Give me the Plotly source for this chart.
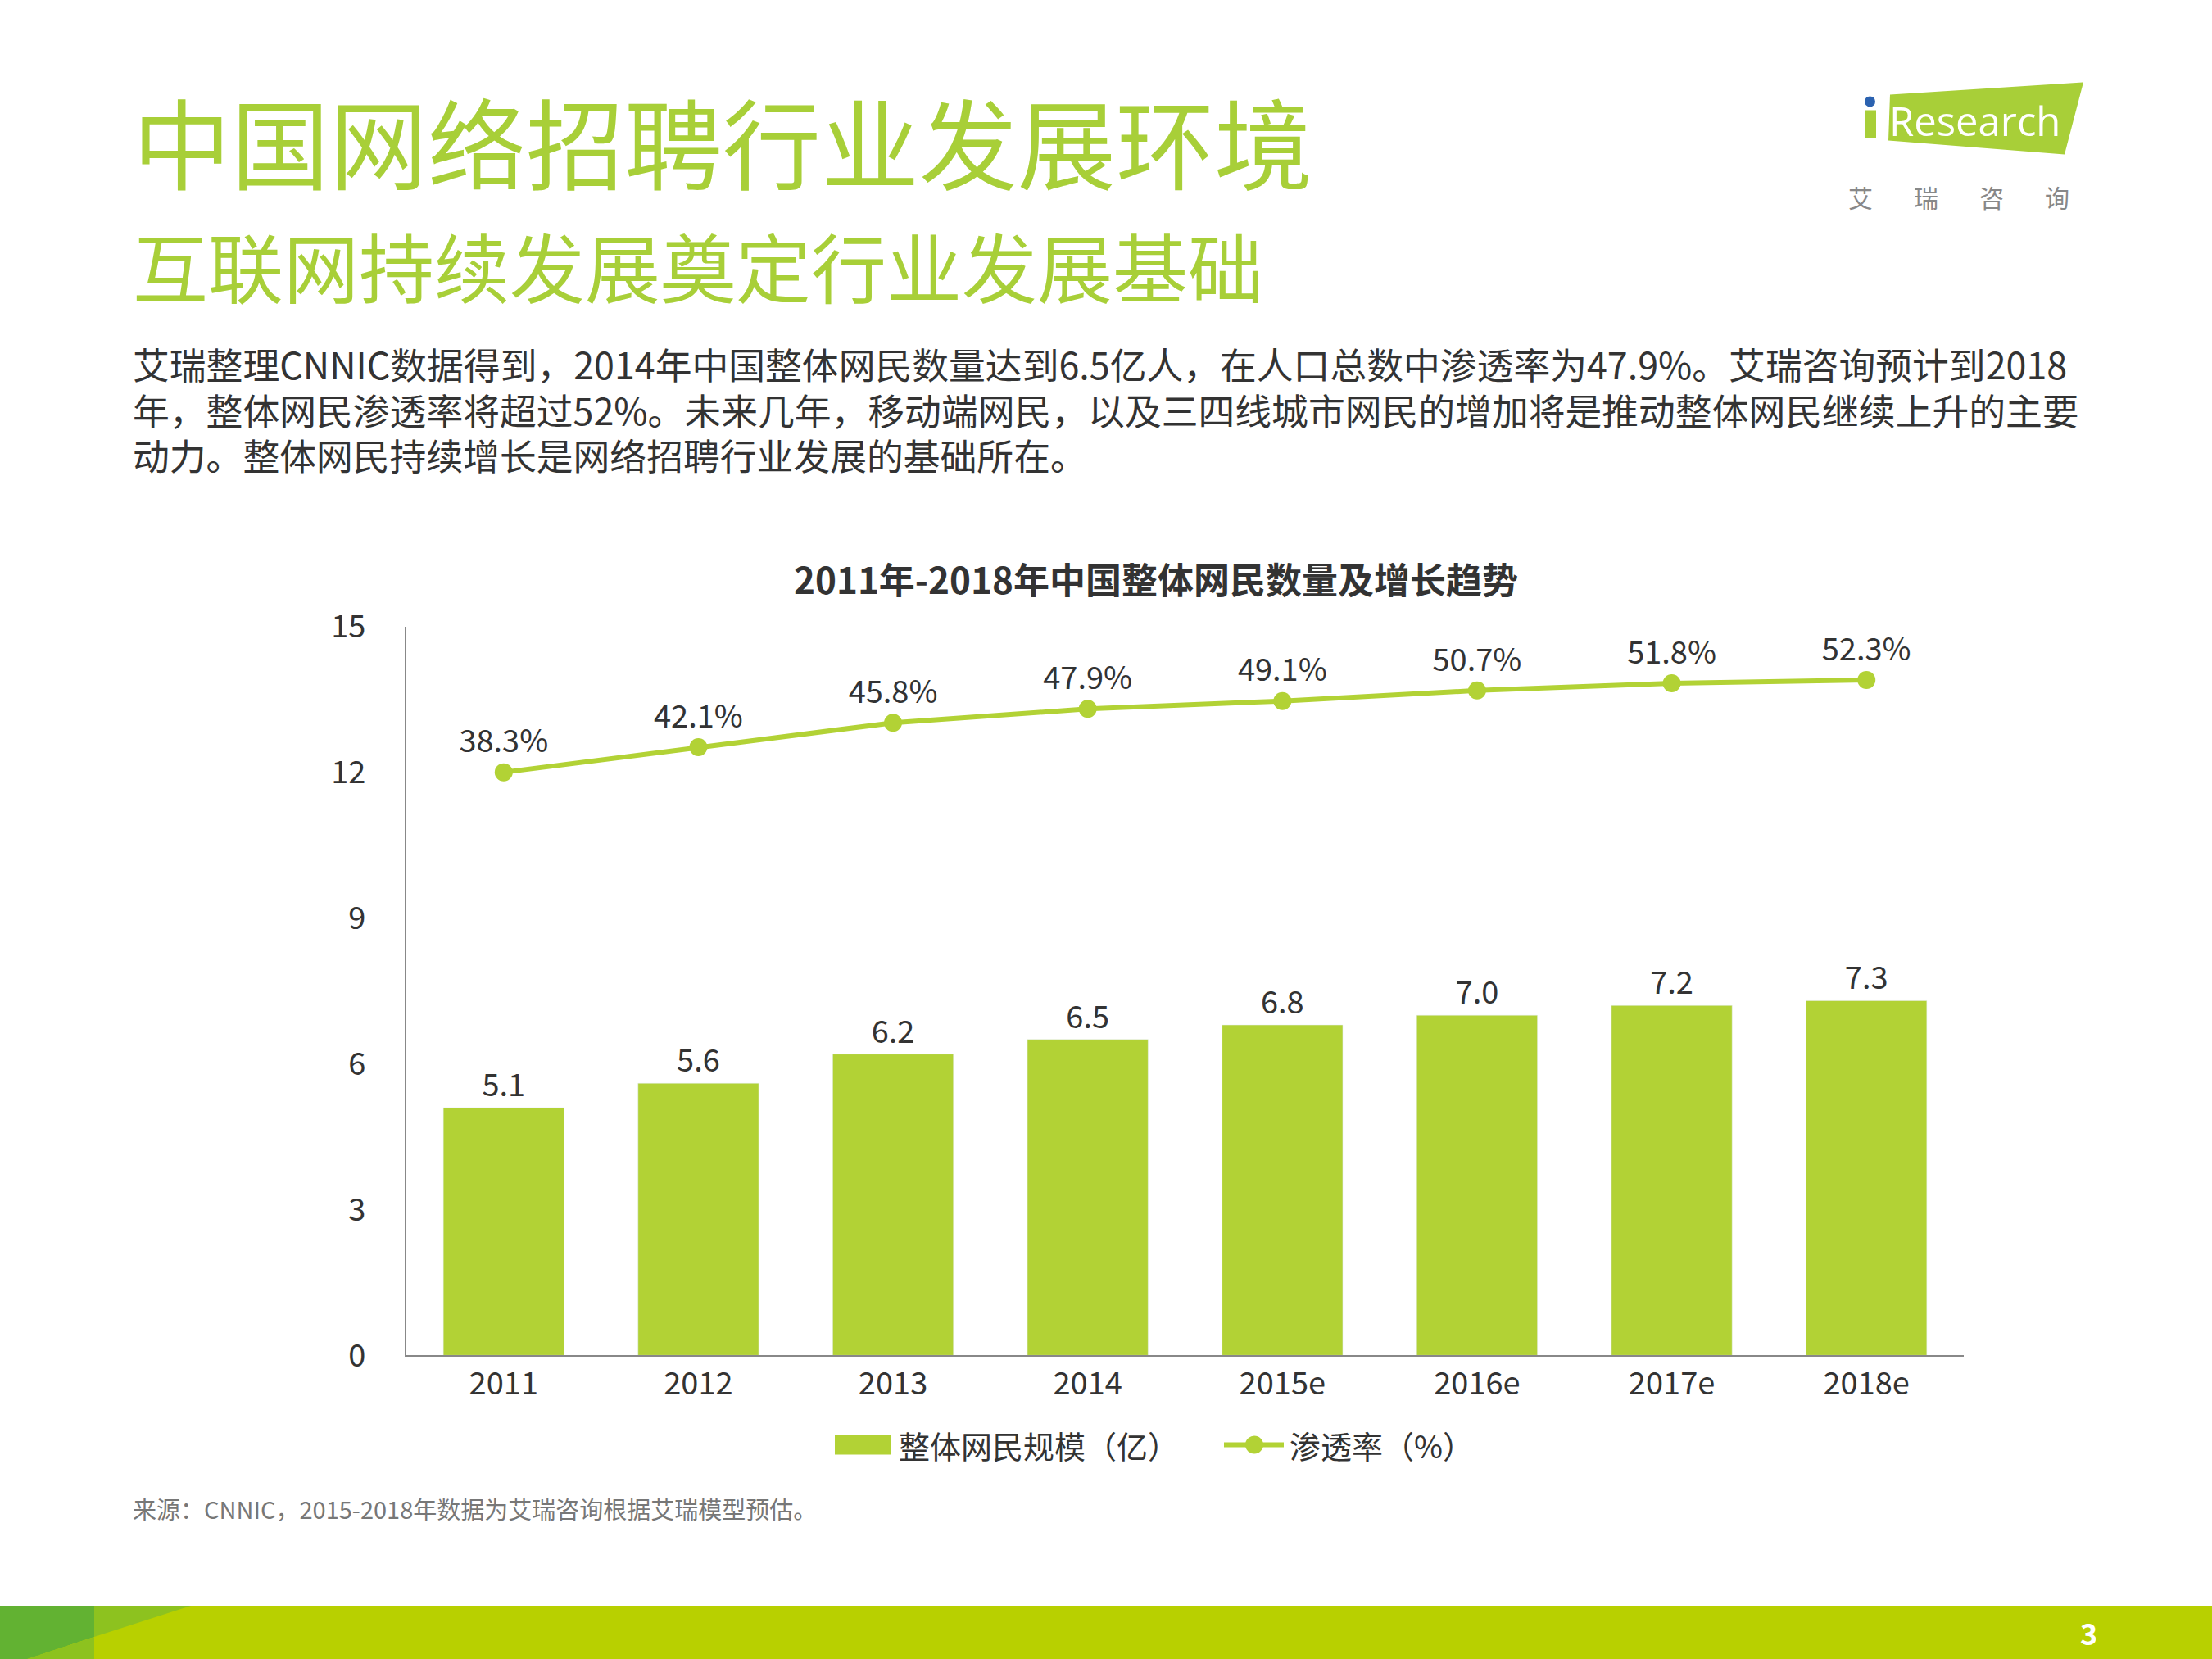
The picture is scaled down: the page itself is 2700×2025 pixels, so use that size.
import plotly.graph_objects as go

years = ["2011", "2012", "2013", "2014", "2015e", "2016e", "2017e", "2018e"]
users = [5.1, 5.6, 6.2, 6.5, 6.8, 7.0, 7.2, 7.3]
rate = [38.3, 42.1, 45.8, 47.9, 49.1, 50.7, 51.8, 52.3]

GREEN = "#B2D235"
TXT = "#A8CF38"
FONT = "Noto Sans CJK SC"
W, H = 2700, 2025


def px(x):
    return x / W


def py(y):
    # the page comes out a bit squeezed vertically, so compensate here
    return 1 - ((y - 32.7) / 0.971) / H


fig = go.Figure()
fig.add_trace(go.Bar(x=years, y=users, name="整体网民规模（亿）", marker_color=GREEN,
                     width=0.62, text=[f"{v:.1f}" for v in users], textposition="outside",
                     textfont=dict(size=38, color="#333333"), cliponaxis=False))
fig.add_trace(go.Scatter(x=years, y=rate, name="渗透率（%）", yaxis="y2", mode="lines+markers+text",
                         line=dict(color=GREEN, width=6), marker=dict(size=22, color=GREEN),
                         text=[f"{v:.1f}%" for v in rate], textposition="top center",
                         textfont=dict(size=38, color="#333333"), cliponaxis=False))

fig.update_layout(
    width=W, height=H, paper_bgcolor="white", plot_bgcolor="white",
    font=dict(family=FONT, color="#333333"),
    margin=dict(l=0, r=0, t=0, b=0), showlegend=False,
    xaxis=dict(domain=[px(496), px(2397)], showline=True, linecolor="#888888", linewidth=2,
               tickfont=dict(size=38), ticks=""),
    yaxis=dict(domain=[py(1653), py(765)], range=[0, 15], dtick=3, showgrid=False,
               showline=True, linecolor="#888888", linewidth=2, tickfont=dict(size=38),
               ticklabelstandoff=40),
    yaxis2=dict(overlaying="y", range=[-50.1, 60.4], visible=False),
)

ann = [
    dict(text="中国网络招聘行业发展环境", x=160, y=172, size=120, color=TXT),
    dict(text="互联网持续发展奠定行业发展基础", x=160, y=324, size=92, color=TXT),
    dict(text="艾瑞整理CNNIC数据得到，2014年中国整体网民数量达到6.5亿人，在人口总数中渗透率为47.9%。艾瑞咨询预计到2018",
         x=160, y=444, size=44.8, color="#333333"),
    dict(text="年，整体网民渗透率将超过52%。未来几年，移动端网民，以及三四线城市网民的增加将是推动整体网民继续上升的主要",
         x=160, y=500, size=44.8, color="#333333"),
    dict(text="动力。整体网民持续增长是网络招聘行业发展的基础所在。", x=160, y=555, size=44.8, color="#333333"),
    dict(text="来源：CNNIC，2015-2018年数据为艾瑞咨询根据艾瑞模型预估。", x=160, y=1839, size=29, color="#777777"),
    # legend
    dict(text="整体网民规模（亿）", x=1095, y=1762, size=38, color="#333333"),
    dict(text="渗透率（%）", x=1572, y=1762, size=38, color="#333333"),
]
for a in ann:
    fig.add_annotation(text=a["text"], x=px(a["x"]), y=py(a["y"]), xref="paper", yref="paper",
                       xanchor="left", yanchor="middle", showarrow=False,
                       font=dict(size=a["size"], color=a["color"], family=FONT))
fig.add_annotation(text="<b>2011年-2018年中国整体网民数量及增长趋势</b>", x=px(1411), y=py(706),
                   xref="paper", yref="paper", showarrow=False, font=dict(size=44, color="#333333"))

# legend symbols
fig.add_shape(type="rect", xref="paper", yref="paper", x0=px(1019), x1=px(1088), y0=py(1774), y1=py(1750),
              fillcolor=GREEN, line_width=0)
fig.add_shape(type="line", xref="paper", yref="paper", x0=px(1494), x1=px(1567), y0=py(1762), y1=py(1762),
              line=dict(color=GREEN, width=6))
fig.add_shape(type="circle", xref="paper", yref="paper", x0=px(1520), x1=px(1542), y0=py(1773), y1=py(1751),
              fillcolor=GREEN, line_width=0)

# logo
fig.add_shape(type="path", xref="paper", yref="paper", fillcolor=TXT, line_width=0,
              path=f"M {px(2307)} {py(117)} L {px(2543)} {py(102)} L {px(2520)} {py(190)} L {px(2305)} {py(173)} Z")
fig.add_shape(type="rect", xref="paper", yref="paper", fillcolor=TXT, line_width=0,
              x0=px(2277), x1=px(2290), y0=py(170), y1=py(136))
fig.add_shape(type="circle", xref="paper", yref="paper", fillcolor="#2B62B0", line_width=0,
              x0=px(2276), x1=px(2289), y0=py(132), y1=py(119))
fig.add_annotation(text="Research", x=px(2304), y=py(148), xref="paper", yref="paper", showarrow=False,
                   xanchor="left", yanchor="middle", font=dict(size=49, color="white", family="Open Sans"))
for i, ch in enumerate("艾瑞咨询"):
    fig.add_annotation(text=ch, x=px(2288 + i * 80), y=py(217), xref="paper", yref="paper",
                       showarrow=False, font=dict(size=30, color="#888888"))

# bottom band
fig.add_shape(type="rect", xref="paper", yref="paper", x0=0, x1=1, y0=-0.05, y1=py(1958),
              fillcolor="#B8D000", line_width=0)
fig.add_shape(type="path", xref="paper", yref="paper", fillcolor="#8DC21F", line_width=0,
              path=f"M {px(115)} {py(1958)} L {px(233)} {py(1958)} L {px(115)} {py(1996)} Z")
fig.add_shape(type="path", xref="paper", yref="paper", fillcolor="#62B232", line_width=0,
              path=f"M 0 {py(1958)} L {px(115)} {py(1958)} L {px(115)} {py(1996)} L {px(27)} {py(2025)} L 0 {py(2025)} Z")
fig.add_shape(type="path", xref="paper", yref="paper", fillcolor="#8DC21F", line_width=0,
              path=f"M {px(27)} {py(2025)} L {px(115)} {py(1996)} L {px(115)} {py(2025)} Z")
fig.add_annotation(text="<b>3</b>", x=px(2562), y=py(1990), xref="paper", yref="paper", showarrow=False,
                   yanchor="middle", font=dict(size=36, color="white"))

fig.write_html("out.html", config={"displayModeBar": False},
               post_script="document.body.style.margin='0';")
